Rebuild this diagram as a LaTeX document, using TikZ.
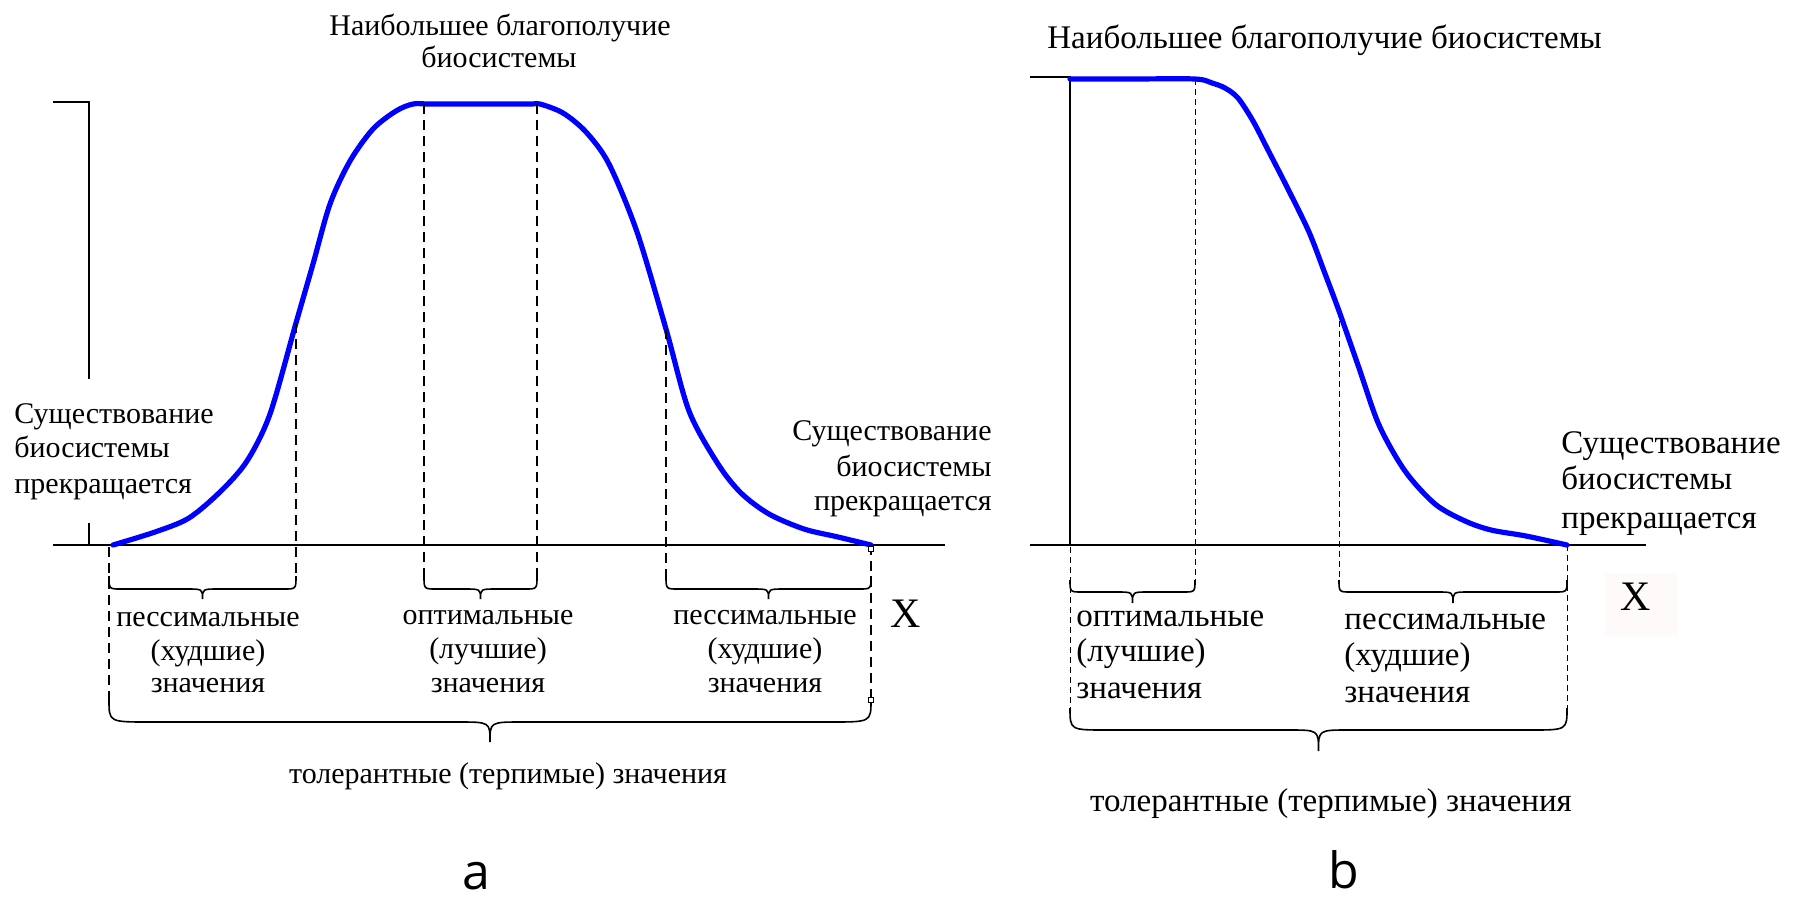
\documentclass[tikz,border=0pt]{standalone}
\usepackage{fontspec}
\setmainfont{Liberation Serif}
\newfontfamily\serfont{Liberation Serif}
\newfontfamily\lblsans{Open Sans}
\usetikzlibrary{calc}
\tikzset{
  curve/.style={draw=blue, line width=2.6pt, line join=round, line cap=round},
  axisline/.style={draw=black, line width=1pt},
  guidea/.style={draw=black, line width=0.75pt, dash pattern=on 5pt off 3pt},
  guideb/.style={draw=black, line width=0.5pt, dash pattern=on 3pt off 2pt},
  bracestyle/.style={draw=black, line width=0.8pt},
  txta/.style={inner sep=0pt, font=\serfont\fontsize{15}{18}\selectfont},
  txtb/.style={inner sep=0pt, font=\serfont\fontsize{16.5}{19}\selectfont},
  xlbl/.style={inner sep=0pt, font=\serfont\fontsize{21}{24}\selectfont},
  panel/.style={inner sep=0pt, font=\lblsans\fontsize{25}{28}\selectfont},
  handle/.style={draw=black, fill=white, line width=0.4pt}
}
\newcommand\mybrace[7]{% xL xR y0 yh yt corner tiphalf
  \pgfmathsetmacro\bxm{(#1+#2)/2}
  \draw[bracestyle] (#1,#3) .. controls (#1,#4) .. ({#1+#6},#4) -- ({\bxm-#7},#4)
    .. controls (\bxm,#4) .. (\bxm,#5) .. controls (\bxm,#4) .. ({\bxm+#7},#4)
    -- ({#2-#6},#4) .. controls (#2,#4) .. (#2,#3);}
\begin{document}
\begin{tikzpicture}[x=0.5pt,y=-0.5pt]
\useasboundingbox (0,0) rectangle (1793,900);
\fill[white] (0,0) rectangle (1793,900);

% ================= panel a =================
\draw[axisline] (53,102) -- (89,102) -- (89,379);
\draw[axisline] (89,523) -- (89,545);
\coordinate (a0) at (53,545);
\coordinate (a1) at (945,545);
\draw[axisline] (a0) -- (a1);

\coordinate (aS) at (113,545);
\coordinate (aE) at (871,545);
\draw[curve] plot[smooth, tension=0.5] coordinates {
 (113,545) (155,532) (189,518) (221,491) (247,461) (270,414) (296,323)
 (313,264) (330,204) (350,161) (373,129) (396,111) (413,104) (430,104)
 (480,104) (530,104) (540,104) (563,113) (586,132) (609,164) (637,232)
 (666,329) (689,411) (718,464) (741,493) (769,514) (804,529) (838,537) (871,545)};

\coordinate (ap1) at (296,323);
\coordinate (ap2) at (424,104);
\coordinate (ap3) at (537,104);
\coordinate (ap4) at (666,329);
\draw[guidea] (109,547) -- (109,700);
\draw[guidea] (ap1) -- (296,577);
\draw[guidea] (ap2) -- (424,577);
\draw[guidea] (ap3) -- (537,577);
\draw[guidea] (ap4) -- (666,577);
\draw[guidea] (aE) -- (871,700);

\mybrace{109}{296}{576}{589}{599}{12}{16}
\mybrace{424}{537}{576}{589}{599}{12}{16}
\mybrace{666}{871}{576}{589}{599}{12}{16}
\mybrace{109}{871}{700}{722}{742}{40}{32}

\draw[handle] (868.5,546.5) rectangle (873.5,551.5);
\draw[handle] (868.5,697.5) rectangle (873.5,702.5);

\node[txta, anchor=base] (atop1) at (500,35) {Наибольшее благополучие};
\node[txta, anchor=base] (atop2) at (499,67) {биосистемы};
\node[txta, anchor=base west] (al1) at (14,423) {Существование};
\node[txta, anchor=base west] (al2) at (14,457) {биосистемы};
\node[txta, anchor=base west] (al3) at (14,493) {прекращается};
\node[txta, anchor=base east] (ar1) at (992,440) {Существование};
\node[txta, anchor=base east] (ar2) at (992,476) {биосистемы};
\node[txta, anchor=base east] (ar3) at (992,510) {прекращается};
\node[txta, anchor=base] (ap1a) at (208,626) {пессимальные};
\node[txta, anchor=base] (ap1b) at (208,660) {(худшие)};
\node[txta, anchor=base] (ap1c) at (208,692) {значения};
\node[txta, anchor=base] (ao1a) at (488,624) {оптимальные};
\node[txta, anchor=base] (ao1b) at (488,658) {(лучшие)};
\node[txta, anchor=base] (ao1c) at (488,692) {значения};
\node[txta, anchor=base] (ap2a) at (765,624) {пессимальные};
\node[txta, anchor=base] (ap2b) at (765,658) {(худшие)};
\node[txta, anchor=base] (ap2c) at (765,692) {значения};
\node[txta, anchor=base] (atol) at (508,783) {толерантные (терпимые) значения};
\node[xlbl, anchor=base] (aX) at (906,627) {X};
\node[panel, anchor=base] (alab) at (476,889) {a};

% ================= panel b =================
\draw[axisline] (1030,77) -- (1070,77) -- (1070,545);
\coordinate (b0) at (1030,545);
\coordinate (b1) at (1646,545);
\draw[axisline] (b0) -- (b1);

\coordinate (bE) at (1567,545);
\draw[curve] plot[smooth, tension=0.5] coordinates {
 (1070,79) (1130,79) (1195,79) (1212,83) (1225,88) (1238,98) (1253,121)
 (1268,150) (1288,189) (1309,232) (1324,271) (1339,311) (1359,368)
 (1379,425) (1405,471) (1435,504) (1465,521) (1491,530) (1526,536) (1567,545)};

\coordinate (bp1) at (1195,79);
\coordinate (bp2) at (1339,311);
\draw[guideb] (1070,547) -- (1070,708);
\draw[guideb] (bp1) -- (1195,581);
\draw[guideb] (bp2) -- (1339,581);
\draw[guideb] (bE) -- (1567,708);

\mybrace{1070}{1195}{580}{592}{603}{12}{16}
\mybrace{1339}{1567}{580}{592}{603}{12}{16}
\mybrace{1070}{1567}{708}{730}{751}{36}{30}

\node[txtb, anchor=base west] (btop) at (1047,48) {Наибольшее благополучие биосистемы};
\node[txtb, anchor=base west] (br1) at (1561,453) {Существование};
\node[txtb, anchor=base west] (br2) at (1561,489) {биосистемы};
\node[txtb, anchor=base west] (br3) at (1561,528) {прекращается};
\node[txtb, anchor=base west] (bo1) at (1076,626) {оптимальные};
\node[txtb, anchor=base west] (bo2) at (1076,661) {(лучшие)};
\node[txtb, anchor=base west] (bo3) at (1076,698) {значения};
\node[txtb, anchor=base west] (bq1) at (1344,629) {пессимальные};
\node[txtb, anchor=base west] (bq2) at (1344,665) {(худшие)};
\node[txtb, anchor=base west] (bq3) at (1344,702) {значения};
\node[txtb, anchor=base] (btol) at (1331,811) {толерантные (терпимые) значения};
\fill[red!2!white] (1605,573) rectangle (1678,635);
\node[xlbl, anchor=base] (bX) at (1636,610) {X};
\node[panel, anchor=base] (blab) at (1344,888) {b};
\end{tikzpicture}
\end{document}
